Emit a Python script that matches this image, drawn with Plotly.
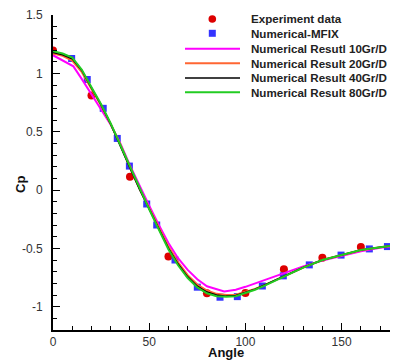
import plotly.graph_objects as go

# ---------------- data ----------------
exp_angle = [0, 20, 40, 60, 80, 100, 120, 140, 160]
exp_cp = [1.195, 0.81, 0.113, -0.571, -0.884, -0.882, -0.679, -0.581, -0.489]

mfix_angle = [9.7, 17.8, 26.1, 33.4, 39.7, 48.7, 53.9, 63.4, 75.0, 86.8, 95.8,
              108.8, 119.7, 133.2, 149.7, 164.4, 173.8, 179.0]
mfix_cp = [1.127, 0.947, 0.700, 0.442, 0.205, -0.120, -0.300, -0.600, -0.833,
           -0.919, -0.914, -0.823, -0.736, -0.642, -0.558, -0.505, -0.485, -0.478]

line_angle = [0, 5, 10, 15, 20, 25, 30, 35, 40, 45, 50, 55, 60, 65, 70, 75, 80,
              85, 90, 95, 100, 105, 110, 115, 120, 125, 130, 140, 150, 160, 170, 180]
cp_20 = [1.17, 1.15, 1.11, 1.01, 0.865, 0.725, 0.565, 0.39, 0.195, 0.01, -0.155,
         -0.32, -0.485, -0.62, -0.73, -0.81, -0.862, -0.89, -0.90, -0.897, -0.875,
         -0.848, -0.815, -0.778, -0.738, -0.70, -0.665, -0.60, -0.556, -0.516, -0.49, -0.47]
cp_40 = [1.18, 1.16, 1.125, 1.025, 0.875, 0.73, 0.565, 0.385, 0.19, 0.005, -0.165,
         -0.335, -0.50, -0.635, -0.745, -0.825, -0.875, -0.90, -0.91, -0.905, -0.88,
         -0.85, -0.815, -0.778, -0.738, -0.70, -0.665, -0.60, -0.555, -0.515, -0.49, -0.47]
cp_80 = [1.19, 1.17, 1.135, 1.03, 0.88, 0.735, 0.57, 0.385, 0.195, 0.01, -0.165,
         -0.34, -0.51, -0.645, -0.755, -0.835, -0.885, -0.91, -0.915, -0.91, -0.885,
         -0.855, -0.82, -0.78, -0.74, -0.70, -0.665, -0.60, -0.555, -0.515, -0.49, -0.47]

angle_10 = [0, 10.6, 15, 20, 25, 30, 35, 40, 45, 50, 55, 60, 65, 70, 75, 80, 89,
            95, 100, 105, 110, 115, 120, 125, 130, 140, 150, 160, 170, 180]
cp_10 = [1.155, 1.06, 0.95, 0.825, 0.69, 0.56, 0.40, 0.21, 0.035, -0.135, -0.30,
         -0.455, -0.585, -0.685, -0.765, -0.825, -0.87, -0.855, -0.83, -0.80, -0.77,
         -0.74, -0.715, -0.685, -0.655, -0.605, -0.565, -0.525, -0.495, -0.475]

legend_labels = ["Experiment data", "Numerical-MFIX", "Numerical Resutl 10Gr/D",
                 "Numerical Result 20Gr/D", "Numerical Result 40Gr/D",
                 "Numerical Result 80Gr/D"]

RED = "#dd0000"
BLUE = "#3333ff"
MAGENTA = "#ff00ff"
ORANGE = "#ff6633"
BLACK = "#000000"
GREEN = "#22cc22"

# ---------------- figure ----------------
fig = go.Figure()
fig.add_trace(go.Scatter(x=exp_angle, y=exp_cp, mode="markers", name=legend_labels[0],
                         marker=dict(symbol="circle", size=8, color=RED)))
fig.add_trace(go.Scatter(x=mfix_angle, y=mfix_cp, mode="markers", name=legend_labels[1],
                         marker=dict(symbol="square", size=7, color=BLUE)))
fig.add_trace(go.Scatter(x=angle_10, y=cp_10, mode="lines", name=legend_labels[2],
                         line=dict(color=MAGENTA, width=2)))
fig.add_trace(go.Scatter(x=line_angle, y=cp_20, mode="lines", name=legend_labels[3],
                         line=dict(color=ORANGE, width=2)))
fig.add_trace(go.Scatter(x=line_angle, y=cp_40, mode="lines", name=legend_labels[4],
                         line=dict(color=BLACK, width=1.6)))
fig.add_trace(go.Scatter(x=line_angle, y=cp_80, mode="lines", name=legend_labels[5],
                         line=dict(color=GREEN, width=2)))

# page body has an 8px margin; size the figure so it ends at the window edge
OFF = 8
W, H = 398 - OFF, 360 - OFF
ML, MR, MT, MB = 53 - OFF, 0, 15 - OFF, 30
PW, PH = W - ML - MR, H - MT - MB


def px(xp):
    return (xp - OFF - ML) / PW


def py(yp):
    return (H - MB - (yp - OFF)) / PH


# manual legend (Tecplot-style, compact spacing)
shapes = []
annotations = []
leg_rows = [19, 33.3, 48.7, 63.3, 78, 92.3]
shapes.append(dict(type="circle", xref="paper", yref="paper",
                   x0=px(212.3 - 3.8), x1=px(212.3 + 3.8),
                   y0=py(19 + 3.8), y1=py(19 - 3.8),
                   fillcolor=RED, line=dict(width=0)))
shapes.append(dict(type="rect", xref="paper", yref="paper",
                   x0=px(212.3 - 3.5), x1=px(212.3 + 3.5),
                   y0=py(33.3 + 3.5), y1=py(33.3 - 3.5),
                   fillcolor=BLUE, line=dict(width=0)))
for yy, col, w in zip(leg_rows[2:], [MAGENTA, ORANGE, BLACK, GREEN], [2, 2, 1.6, 2]):
    shapes.append(dict(type="line", xref="paper", yref="paper",
                       x0=px(185), x1=px(240), y0=py(yy), y1=py(yy),
                       line=dict(color=col, width=w)))
for yy, lab in zip(leg_rows, legend_labels):
    annotations.append(dict(xref="paper", yref="paper", x=px(249), y=py(yy),
                            xanchor="left", yanchor="middle", showarrow=False,
                            text="<b>" + lab + "</b>",
                            font=dict(family="Liberation Sans, Arial", size=11.6, color="#222")))

annotations.append(dict(xref="paper", yref="paper", x=px(226), y=py(352.5),
                        xanchor="center", yanchor="middle", showarrow=False,
                        text="<b>Angle</b>",
                        font=dict(family="Liberation Sans, Arial", size=13, color="#111")))
annotations.append(dict(xref="paper", yref="paper", x=px(20), y=py(185),
                        xanchor="center", yanchor="middle", showarrow=False,
                        text="<b>Cp</b>", textangle=-90,
                        font=dict(family="Liberation Sans, Arial", size=13, color="#111")))

axis_common = dict(showgrid=False, zeroline=False, showline=True, linecolor="black",
                   linewidth=2, ticks="inside", tickcolor="black", tickwidth=1,
                   ticklen=7, automargin=False,
                   tickfont=dict(family="Liberation Sans, Arial", size=12, color="#333"))

fig.update_layout(
    width=W, height=H,
    margin=dict(l=ML, r=MR, t=MT, b=MB, pad=0),
    paper_bgcolor="white", plot_bgcolor="white",
    showlegend=False,
    shapes=shapes, annotations=annotations,
    xaxis=dict(range=[0, 179.3], tickvals=[0, 50, 100, 150],
               minor=dict(tickvals=[10, 20, 30, 40, 60, 70, 80, 90, 110, 120, 130, 140, 160, 170],
                          ticks="inside", ticklen=4, tickcolor="black", tickwidth=1),
               **axis_common),
    yaxis=dict(range=[-1.2, 1.5], tickvals=[-1, -0.5, 0, 0.5, 1, 1.5],
               ticktext=["-1", "-0.5", "0", "0.5", "1", "1.5"],
               minor=dict(dtick=0.1, ticks="inside", ticklen=4, tickcolor="black", tickwidth=1),
               ticklabelstandoff=6,
               **axis_common),
)

fig.write_html("out.html")
